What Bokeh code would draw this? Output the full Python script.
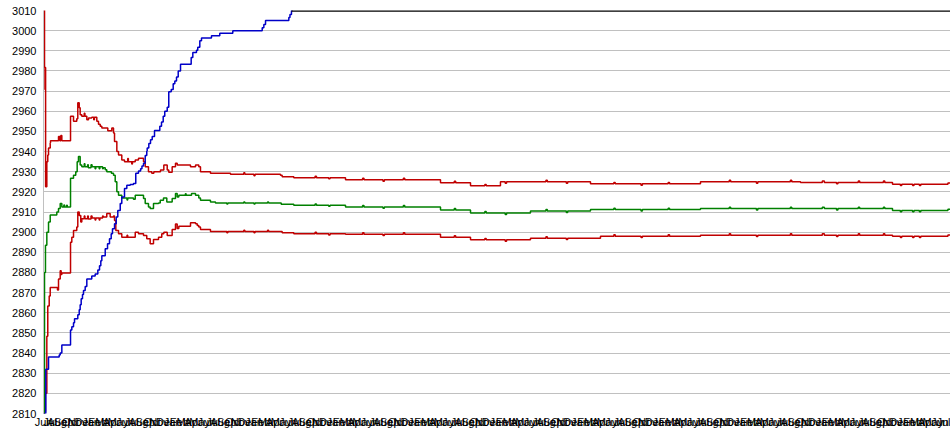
from bokeh.plotting import figure
from bokeh.models import Range1d, FixedTicker, ColumnDataSource
from bokeh.embed import file_html
from bokeh.resources import INLINE

# x values are in months from the first tick ("Jun")
MONTH_NAMES = ["Jun", "Jul", "Aug", "Sep", "Oct", "Nov", "Dec", "Jan", "Feb", "Mar", "Apr", "May"]
N_MONTH_TICKS = 134
X_END = 133.58

BLUE_X = [0, 0.34, 0.74, 2.31, 2.46, 2.70, 3.98, 4.17, 4.42, 4.57, 5.05, 5.26, 5.40, 5.55, 5.74, 5.89,
          6.14, 6.38, 7.11, 7.61, 8.00, 8.25, 8.44, 8.59, 9.09, 9.43, 9.72, 9.97, 10.16, 10.46, 10.71,
          10.94, 11.30, 11.53, 11.93, 12.27, 12.77, 13.25, 13.59, 13.99, 14.30, 14.50, 14.73, 14.98,
          15.21, 15.27, 15.51, 15.76, 16.01, 16.35, 17.13, 17.38, 17.63, 17.86, 18.22, 18.45, 18.81,
          19.10, 19.34, 19.59, 19.84, 20.18, 21.75, 21.99, 22.53, 22.72, 23.02, 23.27, 24.74, 25.96,
          27.88, 32.21, 32.45, 32.70, 36.13, 36.30, 36.52, 36.70]
BLUE_Y = [2810, 2832, 2838, 2839, 2840, 2844, 2851.5, 2853, 2855, 2857, 2859, 2861.5, 2864, 2867, 2869, 2871,
          2873, 2876.7, 2878.3, 2879.2, 2881.2, 2883.3, 2885.8, 2888.3, 2891.7, 2894.2, 2896.7, 2899.2, 2901.7,
          2904.2, 2907.5, 2910.8, 2914.2, 2917.5, 2921.7, 2923.3, 2923.7, 2924.2, 2929.2, 2930.3, 2931.5,
          2932.8, 2934.2, 2938, 2940.3, 2941.7, 2944, 2945.8, 2947.5, 2950.5, 2952.5, 2954.7, 2957.5, 2960,
          2962, 2969.7, 2970.8, 2973.7, 2975, 2977, 2980, 2983.3, 2986.7, 2989.2, 2990.3, 2991.7, 2995, 2996.3,
          2997.5, 2998.7, 3000, 3001.5, 3003, 3005, 3006.5, 3008, 3010, 3010]

TOP_X = [36.52, X_END]
TOP_Y = [3010, 3010]

GREEN_X = [0, 0.15, 0.29, 0.49, 0.74, 0.99, 1.96, 2.21, 2.46, 2.70, 3.00, 3.10, 3.40, 3.50, 3.98, 4.42, 4.75,
           4.96, 5.15, 5.40, 5.64, 6.00, 6.10, 6.50, 6.60, 7.00, 7.15, 7.60, 7.70, 8.20, 8.30, 8.70, 8.80,
           9.09, 9.32, 10.00, 10.31, 10.56, 10.80, 11.05, 11.53, 12.30, 12.40, 13.25, 13.51, 14.73, 14.98,
           15.46, 15.71, 16.20, 16.94, 17.19, 17.67, 18.16, 18.95, 19.44, 19.69, 19.93, 20.90, 21.00, 21.80,
           22.39, 22.87, 23.12, 24.59, 25.33, 27.00, 27.15, 29.50, 29.65, 31.00, 31.15, 33.00, 33.15, 35.01,
           36.86, 40.00, 40.20, 42.00, 42.20, 44.48, 47.00, 47.20, 50.00, 50.20, 53.00, 53.20, 58.47, 60.50,
           60.70, 62.89, 65.00, 65.20, 68.00, 68.20, 71.72, 74.00, 74.20, 77.00, 77.20, 80.56, 84.00, 84.20,
           88.00, 88.20, 92.00, 92.20, 96.76, 101.00, 101.20, 105.00, 105.20, 110.00, 110.20, 114.70, 115.00,
           116.80, 117.00, 120.00, 120.20, 123.70, 123.90, 125.04, 126.20, 126.40, 128.00, 128.20, 129.00,
           129.20, 133.20, 133.58]
GREEN_Y = [2810, 2880, 2893.5, 2900, 2905, 2908.5, 2910, 2911.7, 2914.2, 2912.5, 2913.5, 2912.5, 2913.3, 2912.5,
           2926.7, 2928.3, 2930, 2935, 2937.5, 2933.3, 2932.5, 2934, 2932.5, 2933.5, 2932, 2933.5, 2932.5,
           2931.5, 2932.5, 2931.5, 2932.5, 2931.5, 2932, 2931, 2930, 2929.2, 2928.3, 2925, 2920, 2918.3, 2917,
           2916, 2917, 2916.3, 2918.3, 2916.7, 2914.2, 2912.5, 2911.7, 2914.2, 2914.5, 2915.8, 2917, 2915,
           2916.7, 2919.2, 2917.5, 2918.3, 2919, 2918.3, 2919.2, 2918.3, 2917, 2915.8, 2915, 2914.5, 2914,
           2914.5, 2915, 2914.5, 2914, 2914.5, 2915, 2914.5, 2913.8, 2913.3, 2914, 2913.3, 2912.8, 2913.3,
           2912.5, 2913.2, 2912.5, 2911.8, 2912.5, 2913.2, 2912.5, 2911, 2911.7, 2911, 2909.5, 2910.2, 2909.5,
           2908.8, 2909.5, 2910.5, 2911.2, 2910.5, 2909.8, 2910.5, 2911.2, 2911.9, 2911.2, 2910.5, 2911.2,
           2911.9, 2911.2, 2911.7, 2912.4, 2911.7, 2911, 2911.7, 2912.4, 2911.7, 2912.4, 2911.7, 2911, 2911.7,
           2912.4, 2911.7, 2912.4, 2911.7, 2910.8, 2910.1, 2910.8, 2910.1, 2910.8, 2910.1, 2910.8, 2911.4,
           2911.4]

UPPER_X = [0, 0.15, 0.22, 0.27, 0.31, 0.49, 0.63, 0.74, 0.99, 1.03, 2.21, 2.40, 2.55, 2.70, 3.98, 4.42, 4.90,
           5.05, 5.26, 5.40, 5.64, 6.00, 6.10, 6.38, 6.63, 7.11, 7.40, 7.50, 7.85, 8.10, 8.35, 8.59, 9.47,
           10.06, 10.31, 10.46, 10.80, 11.05, 11.53, 11.93, 12.40, 12.50, 13.00, 13.10, 13.51, 13.99, 14.73,
           14.98, 15.46, 15.95, 16.25, 17.23, 17.72, 18.22, 18.45, 18.95, 19.44, 19.69, 21.65, 22.39, 22.87,
           23.12, 24.59, 27.54, 29.50, 29.65, 31.00, 31.15, 34.90, 35.15, 36.86, 40.00, 40.20, 42.00, 42.20,
           44.48, 47.00, 47.20, 50.00, 50.20, 53.00, 53.20, 58.47, 60.50, 60.70, 62.89, 65.00, 65.20, 67.30,
           68.00, 68.20, 74.00, 74.20, 77.00, 77.20, 80.56, 84.00, 84.20, 88.00, 88.20, 92.00, 92.20, 96.76,
           101.00, 101.20, 105.00, 105.20, 110.00, 110.20, 111.49, 114.70, 115.00, 116.80, 117.00, 120.00,
           120.20, 123.70, 123.90, 125.04, 126.20, 126.40, 128.00, 128.20, 129.00, 129.20, 133.20, 133.58]
UPPER_Y = [3015, 2981.7, 2970.8, 2981.7, 2922.5, 2935, 2938.3, 2941.7, 2944.2, 2945.3, 2947.5, 2945.3, 2948,
           2945.3, 2957.5, 2955, 2956.3, 2964.2, 2961.7, 2958.3, 2957.5, 2959, 2957.5, 2955.8, 2956.7, 2957,
           2955.8, 2957, 2955, 2953.5, 2952.5, 2951.7, 2950.3, 2951.7, 2949.2, 2945, 2940, 2938.3, 2935.8, 2935,
           2936.5, 2935, 2933.8, 2935, 2935.8, 2936.7, 2935, 2932.5, 2930, 2929.2, 2930, 2930.8, 2933.3, 2930.8,
           2929.7, 2932.5, 2934.2, 2933.3, 2932.5, 2933.3, 2932.5, 2930, 2929.2, 2928.7, 2929.5, 2928.7, 2928,
           2928.7, 2928.3, 2927.5, 2927, 2927.7, 2927, 2926.5, 2927, 2926, 2926.7, 2926, 2925.3, 2926, 2926.7,
           2926, 2924.5, 2925.2, 2924.5, 2923, 2923.7, 2923, 2925, 2924.3, 2925, 2925.7, 2925, 2924.3, 2925,
           2924, 2924.7, 2924, 2923.3, 2924, 2924.7, 2924, 2925, 2925.7, 2925, 2924.3, 2925, 2925.7, 2925,
           2924.7, 2925.4, 2924.7, 2924, 2924.7, 2925.4, 2924.7, 2925.4, 2924.7, 2923.8, 2923.1, 2923.8, 2923.1,
           2923.8, 2923.1, 2923.8, 2924.4, 2924.4]

LOWER_X = [0, 0.15, 0.29, 0.49, 0.63, 0.84, 0.99, 2.06, 2.21, 2.46, 2.60, 2.70, 3.98, 4.17, 4.42, 4.90, 5.05,
           5.26, 5.49, 5.64, 6.00, 6.10, 6.50, 6.60, 7.00, 7.15, 7.60, 7.70, 8.20, 8.30, 8.70, 8.80, 9.32, 9.82,
           10.31, 10.46, 10.65, 11.05, 11.53, 12.30, 12.40, 13.51, 13.99, 14.73, 15.21, 15.71, 16.20, 16.94,
           17.42, 17.72, 18.22, 18.95, 19.44, 19.69, 19.93, 21.65, 22.39, 22.64, 22.87, 23.12, 24.59, 27.00,
           27.15, 29.50, 29.65, 31.00, 31.15, 33.00, 33.15, 35.15, 36.86, 40.00, 40.20, 42.00, 42.20, 44.48,
           47.00, 47.20, 50.00, 50.20, 53.00, 53.20, 58.47, 60.50, 60.70, 62.89, 65.00, 65.20, 68.00, 68.20,
           71.72, 74.00, 74.20, 77.00, 77.20, 82.03, 84.00, 84.20, 88.00, 88.20, 92.00, 92.20, 96.76, 101.00,
           101.20, 105.00, 105.20, 110.00, 110.20, 114.70, 115.00, 116.80, 117.00, 120.00, 120.20, 123.70,
           123.90, 125.04, 126.20, 126.40, 128.00, 128.20, 129.00, 129.20, 133.20, 133.58]
LOWER_Y = [2810, 2811, 2820, 2848.3, 2863.3, 2868.3, 2872.5, 2871.3, 2876.7, 2880.8, 2879, 2879.7, 2895, 2897.5,
           2900.8, 2902.5, 2910, 2908.3, 2905, 2906.7, 2908, 2906.7, 2908, 2906.5, 2908, 2907, 2906, 2907, 2906,
           2907, 2908, 2907.5, 2909.2, 2907.5, 2908, 2905.8, 2900.8, 2899.2, 2897.5, 2898.5, 2897.5, 2900,
           2899.2, 2898.3, 2896.7, 2894.2, 2896.3, 2897.5, 2899.2, 2900, 2898.3, 2901.3, 2904, 2901.8, 2902.9,
           2904.7, 2904.2, 2903.3, 2902.5, 2901.3, 2900.3, 2899.7, 2900.3, 2901, 2900.3, 2899.7, 2900.3, 2901,
           2900.3, 2899.7, 2899.2, 2899.9, 2899.2, 2898.6, 2899.2, 2899, 2899.7, 2899, 2898.3, 2899, 2899.7,
           2899, 2897.5, 2898.2, 2897.5, 2896.2, 2896.9, 2896.2, 2895.5, 2896.2, 2897, 2897.7, 2897, 2896.3,
           2897, 2898, 2898.7, 2898, 2897.3, 2898, 2898.7, 2898, 2898.5, 2899.2, 2898.5, 2897.8, 2898.5, 2899.2,
           2898.5, 2899.2, 2898.5, 2897.8, 2898.5, 2899.2, 2898.5, 2899.2, 2898.5, 2898, 2897.3, 2898, 2897.3,
           2898, 2897.3, 2898, 2898.6, 2898.6]

Y_MIN, Y_MAX, Y_STEP = 2810, 3010, 10

FONT = "Liberation Sans"

p = figure(width=950, height=430, output_backend="svg", toolbar_location=None,
           x_range=Range1d(0, X_END), y_range=Range1d(Y_MIN, Y_MAX),
           min_border_left=43, min_border_right=0, min_border_top=10, min_border_bottom=0)
p.outline_line_color = None
p.background_fill_color = "white"
p.border_fill_color = "white"

p.xgrid.grid_line_color = None
p.ygrid.grid_line_color = "#c0c0c0"
p.ygrid.grid_line_width = 1

p.yaxis.ticker = FixedTicker(ticks=list(range(Y_MIN, Y_MAX + 1, Y_STEP)))
p.yaxis.major_tick_out = 0
p.yaxis.major_tick_in = 0
p.yaxis.minor_tick_out = 0
p.yaxis.minor_tick_in = 0
p.yaxis.axis_line_color = "#c0c0c0"
p.yaxis.major_label_standoff = 7
p.yaxis.major_label_text_font = FONT
p.yaxis.major_label_text_font_size = "11px"
p.yaxis.major_label_text_color = "#000000"

ticks = list(range(N_MONTH_TICKS))
p.xaxis.ticker = FixedTicker(ticks=ticks)
p.xaxis.major_label_overrides = {t: MONTH_NAMES[t % 12] for t in ticks}
p.xaxis.major_tick_out = 0
p.xaxis.major_tick_in = 0
p.xaxis.minor_tick_out = 0
p.xaxis.minor_tick_in = 0
p.xaxis.axis_line_color = None
p.xaxis.major_label_standoff = 2
p.xaxis.major_label_text_font = FONT
p.xaxis.major_label_text_font_size = "11px"
p.xaxis.major_label_text_color = "#000000"

lw = 1.5
p.step(x="x", y="y", source=ColumnDataSource(dict(x=LOWER_X, y=LOWER_Y)), mode="after",
       line_color="#c00000", line_width=lw)
p.step(x="x", y="y", source=ColumnDataSource(dict(x=UPPER_X, y=UPPER_Y)), mode="after",
       line_color="#c00000", line_width=lw)
p.step(x="x", y="y", source=ColumnDataSource(dict(x=GREEN_X, y=GREEN_Y)), mode="after",
       line_color="#008000", line_width=lw)
p.step(x="x", y="y", source=ColumnDataSource(dict(x=BLUE_X, y=BLUE_Y)), mode="after",
       line_color="#0000c8", line_width=lw)
p.line(x="x", y="y", source=ColumnDataSource(dict(x=TOP_X, y=TOP_Y)),
       line_color="#000000", line_width=2.5)

open("out.html", "w").write(file_html(p, INLINE))
